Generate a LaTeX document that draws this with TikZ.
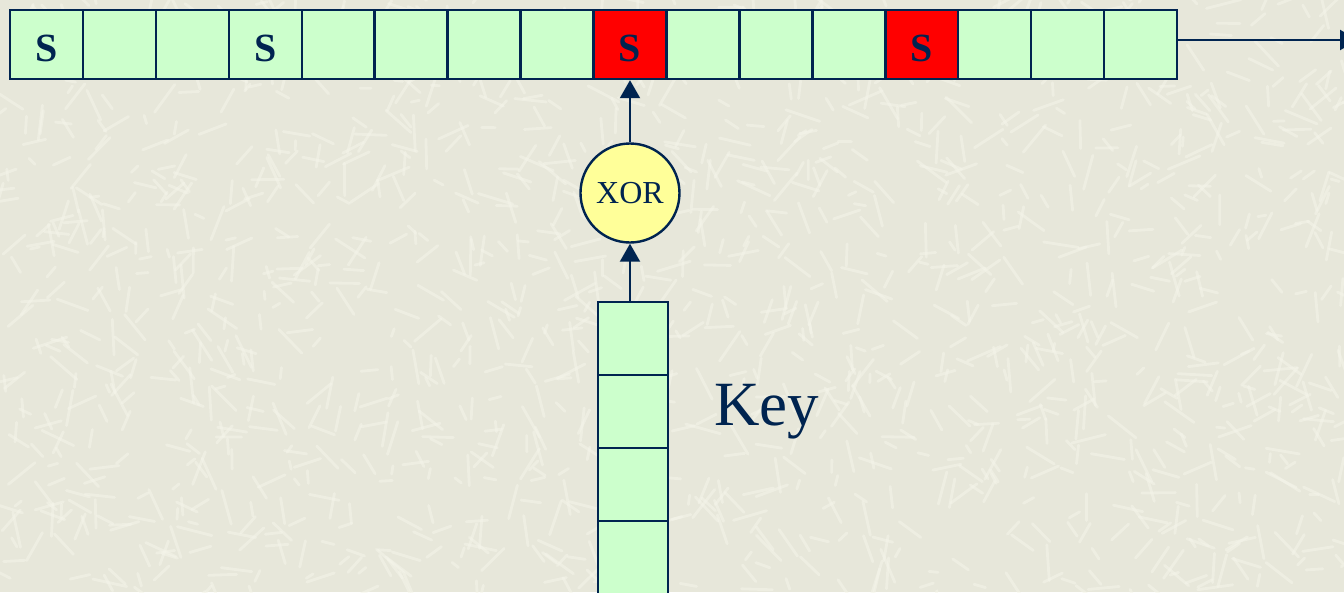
\documentclass[tikz,border=0pt]{standalone}
\usepackage{fontspec}
\setmainfont{Liberation Serif}
\usetikzlibrary{arrows.meta}

\definecolor{paper}{RGB}{231,231,218}
\definecolor{scratch}{RGB}{245,245,234}
\definecolor{cellgreen}{RGB}{204,255,204}
\definecolor{navy}{RGB}{0,36,80}
\definecolor{hotred}{RGB}{255,0,0}
\definecolor{xoryellow}{RGB}{255,255,153}

\tikzset{
  cell/.style={draw=navy, fill=cellgreen, line width=2.4pt, inner sep=0pt,
               minimum width=72.9pt, minimum height=69pt},
  hot/.style={fill=hotred},
  sbox/.style={text=navy, font=\fontsize{40}{40}\selectfont\bfseries, yshift=-4pt},
  gate/.style={circle, draw=navy, fill=xoryellow, line width=2.4pt, inner sep=0pt,
               minimum size=99pt, text=navy, font=\fontsize{32}{32}\selectfont},
  flow/.style={draw=navy, line width=2.2pt, -{Triangle[length=18pt,width=20pt]}},
  label/.style={text=navy, font=\fontsize{63}{63}\selectfont, inner sep=0pt}
}

\begin{document}
\begin{tikzpicture}[x=1pt, y=-1pt]
  \useasboundingbox (0,0) rectangle (1344,592);
  \clip (0,0) rectangle (1344,592);

  % textured backdrop
  \fill[paper] (0,0) rectangle (1344,592);
  \pgfmathsetseed{4242}
  \foreach \i in {1,...,1500}{
    \pgfmathsetmacro\px{rnd*1344}
    \pgfmathsetmacro\py{rnd*592}
    \pgfmathsetmacro\pa{rnd*360}
    \pgfmathsetmacro\pl{8+rnd*28}
    \draw[scratch, line width=2.8pt, opacity=0.55, line cap=round]
      (\px,\py) -- ++(\pa:\pl);
  }

  % state array of 16 cells
  \foreach \k in {0,...,15}{
    \pgfmathsetmacro\cx{10+72.94*\k+36.47}
    \node[cell] (c\k) at (\cx,44.5) {};
  }
  \node[cell, hot] at (c8) {};
  \node[cell, hot] at (c12) {};
  \foreach \k in {0,3,8,12}{
    \node[sbox] at (c\k) {S};
  }

  % output of the array
  \coordinate (out) at (1358,40);
  \draw[flow] (c15.east |- 0,40) -- (out);

  % XOR gate
  \node[gate] (xor) at (c8 |- 0,193) {XOR};

  % key column
  \foreach \k in {0,...,3}{
    \pgfmathsetmacro\ky{302+73*\k+36.5}
    \node[cell, minimum width=70pt, minimum height=73pt] (k\k) at (633,\ky) {};
  }
  \node[label, anchor=base west] (keylbl) at (714,425) {Key};

  % connectors
  \draw[flow] (xor.north) -- (c8.south);
  \draw[flow] (xor.south |- k0.north) -- (xor.south);
\end{tikzpicture}
\end{document}
